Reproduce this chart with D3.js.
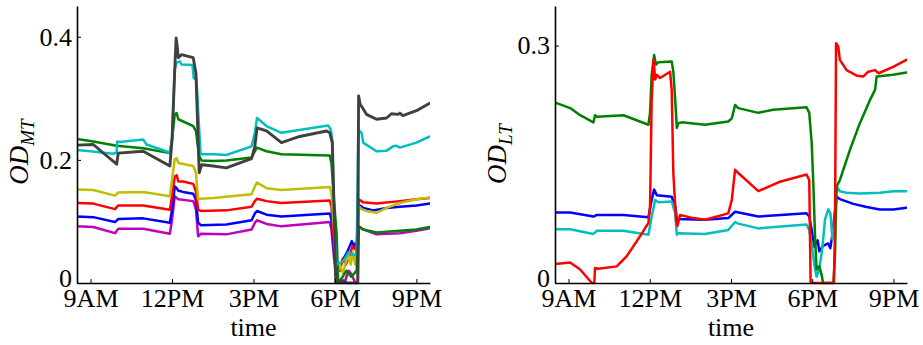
<!DOCTYPE html>
<html><head><meta charset="utf-8">
<script src="https://cdn.jsdelivr.net/npm/d3@7"></script>
<style>
html,body{margin:0;padding:0;background:#fff;}
svg text{font-family:"Liberation Serif","Times New Roman",serif;fill:#000;}
</style></head>
<body><svg id="c" width="923" height="345"></svg>
<script>
// ---- data (time in hours, value) ----
const xTickHours = [9, 12, 15, 18, 21];
const xTickLabels = ["9AM", "12PM", "3PM", "6PM", "9PM"];
const leftYTicks = [0, 0.2, 0.4];
const rightYTicks = [0, 0.3];

const leftGray = [[8.5,0.224],[9.1,0.225],[9.5,0.21],[9.96,0.193],[10.02,0.211],[10.94,0.214],[11.92,0.190],[12.0,0.233],[12.1,0.347],[12.15,0.398],[12.19,0.385],[12.23,0.366],[12.35,0.371],[12.78,0.366],[12.88,0.341],[13.0,0.179],[13.09,0.192],[13.52,0.190],[14.0,0.187],[14.5,0.195],[14.93,0.202],[15.05,0.222],[15.13,0.252],[15.48,0.247],[16.03,0.228],[16.7,0.238],[17.69,0.247],[17.81,0.244],[17.9,0.228],[17.97,0.12],[18.03,0],[18.3,0.004],[18.45,0],[18.84,0],[18.87,0.304],[18.93,0.29],[18.98,0.287],[19.16,0.274],[19.53,0.266],[19.9,0.268],[20.08,0.275],[20.33,0.274],[20.39,0.276],[20.5,0.272],[21.0,0.280],[21.49,0.292]];
const leftCyan = [[8.5,0.216],[8.98,0.214],[9.83,0.210],[9.96,0.212],[9.98,0.230],[10.08,0.229],[10.94,0.233],[11.06,0.225],[11.92,0.212],[12.0,0.233],[12.1,0.347],[12.17,0.358],[12.29,0.360],[12.35,0.355],[12.75,0.354],[12.8,0.333],[12.9,0.33],[13.0,0.249],[13.05,0.209],[13.52,0.209],[14.0,0.208],[14.93,0.222],[15.05,0.244],[15.13,0.268],[15.48,0.255],[16.03,0.244],[17.75,0.256],[17.85,0.249],[17.91,0.228],[17.97,0.1],[18.05,0.03],[18.3,0.035],[18.5,0.05],[18.7,0.045],[18.8,0.05],[18.86,0.249],[18.98,0.244],[19.04,0.228],[19.53,0.214],[19.9,0.215],[20.14,0.222],[20.25,0.223],[20.39,0.220],[21.0,0.228],[21.49,0.238]];
const leftGreen = [[8.5,0.234],[9.1,0.230],[9.96,0.223],[10.94,0.219],[11.92,0.211],[12.0,0.233],[12.1,0.274],[12.17,0.276],[12.23,0.266],[12.78,0.255],[12.88,0.247],[13.0,0.206],[13.09,0.199],[13.52,0.198],[14.0,0.199],[14.93,0.204],[15.05,0.214],[15.13,0.220],[15.48,0.214],[16.03,0.209],[17.81,0.207],[17.87,0.195],[17.96,0.136],[18.06,0.081],[18.12,0],[18.3,0.011],[18.42,0.02],[18.6,0.01],[18.8,0.02],[18.87,0.092],[19.04,0.087],[19.53,0.082],[20.14,0.084],[21.0,0.087],[21.49,0.091]];
const leftYellow = [[8.5,0.152],[9.1,0.151],[9.9,0.142],[10.02,0.147],[10.94,0.148],[11.92,0.141],[12.0,0.168],[12.1,0.201],[12.17,0.203],[12.23,0.195],[12.78,0.190],[12.88,0.179],[12.96,0.136],[13.06,0.137],[13.52,0.138],[14.93,0.144],[15.05,0.157],[15.13,0.163],[15.48,0.154],[16.03,0.151],[17.81,0.156],[17.87,0.146],[17.96,0.092],[18.06,0.01],[18.18,0.03],[18.3,0.015],[18.4,0.035],[18.5,0.045],[18.58,0.03],[18.66,0.05],[18.75,0.03],[18.82,0.054],[18.87,0.125],[18.98,0.12],[19.16,0.117],[19.53,0.114],[19.9,0.122],[20.39,0.130],[21.0,0.136],[21.49,0.139]];
const leftRed = [[8.5,0.130],[9.1,0.129],[9.9,0.120],[10.02,0.126],[10.94,0.126],[11.92,0.119],[12.0,0.141],[12.1,0.173],[12.17,0.175],[12.23,0.165],[12.41,0.165],[12.78,0.161],[12.88,0.149],[12.96,0.119],[13.06,0.117],[14.0,0.118],[14.93,0.124],[15.05,0.133],[15.13,0.137],[15.48,0.133],[16.03,0.130],[17.81,0.134],[17.87,0.125],[17.96,0.070],[18.06,0.02],[18.18,0.02],[18.29,0.04],[18.4,0.03],[18.54,0.045],[18.65,0.06],[18.73,0.055],[18.8,0.06],[18.87,0.136],[19.04,0.131],[19.53,0.129],[20.39,0.133],[21.0,0.136],[21.49,0.138]];
const leftBlue = [[8.5,0.108],[9.1,0.107],[9.9,0.099],[10.02,0.104],[10.94,0.105],[11.92,0.098],[12.0,0.119],[12.1,0.157],[12.17,0.154],[12.23,0.150],[12.41,0.148],[12.78,0.145],[12.88,0.135],[12.96,0.098],[13.06,0.094],[14.0,0.095],[14.93,0.102],[15.05,0.113],[15.13,0.117],[15.48,0.111],[16.03,0.108],[17.81,0.113],[17.87,0.103],[17.96,0.060],[18.06,0.015],[18.2,0.03],[18.32,0.04],[18.45,0.05],[18.62,0.068],[18.7,0.06],[18.77,0.065],[18.81,0.045],[18.87,0.127],[19.04,0.122],[19.41,0.118],[19.9,0.122],[20.39,0.124],[21.0,0.126],[21.49,0.129]];
const leftMagenta = [[8.5,0.092],[9.1,0.091],[9.9,0.081],[10.02,0.088],[10.94,0.088],[11.92,0.080],[12.0,0.103],[12.1,0.141],[12.17,0.138],[12.23,0.136],[12.78,0.133],[12.88,0.12],[12.96,0.076],[13.06,0.080],[14.0,0.079],[14.93,0.087],[15.05,0.098],[15.13,0.102],[15.48,0.096],[16.03,0.092],[17.81,0.099],[17.87,0.087],[17.96,0.043],[18.06,0],[18.35,0],[18.5,0.02],[18.6,0.015],[18.75,0],[18.84,0],[18.88,0.092],[19.04,0.087],[19.53,0.079],[20.39,0.081],[21.0,0.085],[21.49,0.089]];

const rightBlue = [[8.51,0.089],[9.06,0.089],[9.92,0.084],[10.05,0.086],[11.03,0.086],[11.95,0.083],[12.07,0.105],[12.16,0.118],[12.26,0.111],[12.81,0.109],[12.94,0.097],[13.0,0.081],[14.04,0.080],[14.9,0.082],[15.15,0.090],[16.01,0.084],[17.79,0.088],[17.89,0.084],[17.98,0.067],[18.07,0.046],[18.2,0.054],[18.26,0.040],[18.4,0.047],[18.59,0.050],[18.67,0.044],[18.75,0.063],[18.9,0.109],[19.02,0.106],[19.52,0.100],[20.01,0.096],[20.5,0.093],[20.99,0.093],[21.48,0.095]];
const rightCyan = [[8.51,0.068],[9.06,0.068],[9.92,0.062],[10.05,0.066],[11.03,0.066],[11.95,0.061],[12.07,0.084],[12.2,0.105],[12.32,0.102],[12.81,0.103],[12.94,0.088],[13.0,0.061],[13.06,0.063],[14.04,0.062],[14.9,0.067],[15.15,0.077],[15.27,0.075],[16.01,0.069],[17.79,0.074],[17.89,0.067],[17.98,0.050],[18.07,0.025],[18.16,0.008],[18.26,0.017],[18.38,0.046],[18.47,0.080],[18.59,0.093],[18.67,0.088],[18.75,0.055],[18.82,0.072],[18.9,0.122],[19.02,0.116],[19.27,0.114],[19.76,0.113],[20.5,0.114],[20.99,0.116],[21.48,0.116]];
const rightGreen = [[8.51,0.228],[9.06,0.221],[9.43,0.212],[9.92,0.203],[9.98,0.212],[10.05,0.210],[11.03,0.212],[11.95,0.200],[12.01,0.215],[12.07,0.263],[12.16,0.288],[12.23,0.276],[12.32,0.279],[12.81,0.280],[12.87,0.267],[12.94,0.231],[13.0,0.196],[13.06,0.202],[13.18,0.203],[14.04,0.200],[14.9,0.204],[15.03,0.208],[15.15,0.225],[15.27,0.221],[16.01,0.215],[16.56,0.219],[17.79,0.222],[17.89,0.215],[17.98,0.177],[18.04,0.126],[18.1,0.063],[18.16,0.017],[18.26,0.021],[18.35,0.01],[18.4,0],[18.78,0],[18.84,0.034],[18.9,0.122],[19.02,0.130],[19.39,0.168],[19.76,0.202],[20.13,0.231],[20.32,0.244],[20.38,0.261],[20.99,0.263],[21.48,0.266]];
const rightRed = [[8.51,0.024],[9.06,0.026],[9.43,0.017],[9.86,0],[9.95,0],[9.98,0.019],[10.1,0.018],[10.78,0.021],[11.15,0.034],[11.64,0.059],[11.95,0.076],[12.01,0.097],[12.07,0.231],[12.14,0.282],[12.2,0.257],[12.26,0.263],[12.38,0.259],[12.75,0.267],[12.81,0.244],[12.87,0.139],[12.97,0.080],[13.02,0.072],[13.12,0.086],[13.61,0.082],[14.04,0.080],[14.9,0.088],[15.03,0.105],[15.15,0.143],[15.27,0.139],[16.01,0.116],[16.81,0.128],[17.79,0.137],[17.89,0.130],[17.94,0],[18.8,0],[18.84,0.063],[18.88,0.303],[18.96,0.299],[19.02,0.282],[19.27,0.269],[19.64,0.262],[19.89,0.261],[20.07,0.267],[20.32,0.269],[20.45,0.265],[20.99,0.273],[21.48,0.282]];

// ---- drawing ----
const svg = d3.select("#c");
const FS = 26;

function panel(cfg) {
  const x = d3.scaleLinear().domain([8.5, 21.5]).range([cfg.x0, cfg.x1]);
  const y = d3.scaleLinear().domain([0, cfg.ymax]).range([283, 6]);
  const g = svg.append("g");
  const cid = "clip" + cfg.id;
  svg.append("clipPath").attr("id", cid).append("rect")
    .attr("x", cfg.x0).attr("y", 6).attr("width", cfg.x1 - cfg.x0).attr("height", 283 - 6 + 1.5);
  const line = d3.line().x(d => x(d[0])).y(d => y(Math.max(0, d[1])));
  const lg = g.append("g").attr("clip-path", `url(#${cid})`);
  cfg.series.forEach(s => {
    lg.append("path").datum(s.data).attr("d", line)
      .attr("fill", "none").attr("stroke", s.color)
      .attr("stroke-width", s.w || 2.5).attr("stroke-linejoin", "round").attr("stroke-linecap", "round");
  });
  const xa = g.append("g").attr("transform", `translate(0,283)`)
    .call(d3.axisBottom(x).tickValues(xTickHours).tickFormat((d, i) => xTickLabels[i]).tickSize(-4).tickSizeOuter(0).tickPadding(6));
  const ya = g.append("g").attr("transform", `translate(${cfg.x0},0)`)
    .call(d3.axisLeft(y).tickValues(cfg.yticks).tickFormat(d => d === 0 ? "0" : d3.format(".1f")(d)).tickSize(-4).tickSizeOuter(0).tickPadding(5));
  [xa, ya].forEach(a => {
    a.select(".domain").attr("stroke", "#000").attr("stroke-width", 1.6);
    a.selectAll(".tick line").attr("stroke", "#000").attr("stroke-width", 1);
    a.selectAll("text").style("font-family", "'Liberation Serif', serif").style("font-size", FS + "px").attr("fill", "#000");
  });
  ya.selectAll(".tick").filter(d => d === 0).select("text").attr("dy", "0.12em");
  g.append("text").attr("x", (cfg.x0 + cfg.x1) / 2).attr("y", 336)
    .attr("text-anchor", "middle").style("font-size", FS + "px").text("time");
  const yl = g.append("text")
    .attr("transform", `translate(${cfg.labX},${cfg.labY}) rotate(-90)`)
    .attr("text-anchor", "middle").style("font-style", "italic").style("font-size", "27px");
  yl.append("tspan").text("OD");
  yl.append("tspan").attr("dy", 6).style("font-size", "19px").text(cfg.sub);
}

panel({id: "L", x0: 77, x1: 430, ymax: 0.45, yticks: leftYTicks, labX: 28, labY: 152, sub: "MT",
  series: [
    {data: leftMagenta, color: "#bf00bf"},
    {data: leftBlue, color: "#0000ff"},
    {data: leftRed, color: "#ff0000"},
    {data: leftYellow, color: "#bfbf00"},
    {data: leftGreen, color: "#008000"},
    {data: leftCyan, color: "#00bfbf"},
    {data: leftGray, color: "#404040", w: 2.9}
  ]});
panel({id: "R", x0: 555, x1: 907, ymax: 0.35, yticks: rightYTicks, labX: 506, labY: 154, sub: "LT",
  series: [
    {data: rightBlue, color: "#0000ff"},
    {data: rightCyan, color: "#00bfbf"},
    {data: rightGreen, color: "#008000"},
    {data: rightRed, color: "#ff0000"}
  ]});
</script></body></html>
